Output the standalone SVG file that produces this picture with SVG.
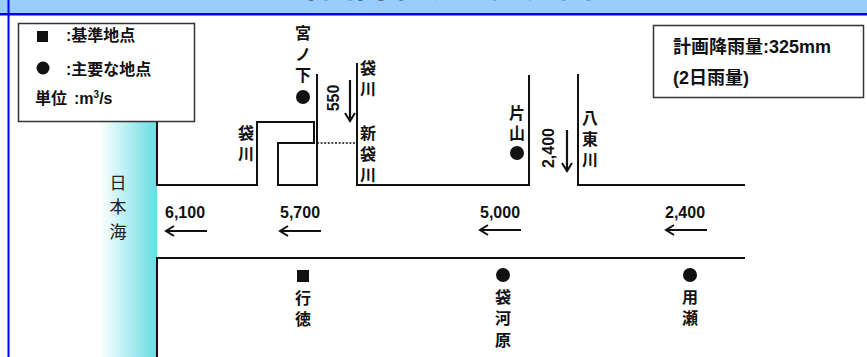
<svg xmlns="http://www.w3.org/2000/svg" width="867" height="357" viewBox="0 0 867 357">
<style>
.lbl{font-family:"Liberation Sans","Noto Sans CJK JP",sans-serif;font-weight:bold;font-size:16px;fill:#111;text-anchor:middle}
.num{font-family:"Liberation Sans","Noto Sans CJK JP",sans-serif;font-weight:bold;font-size:16px;fill:#111}
.leg{font-family:"Liberation Sans","Noto Sans CJK JP",sans-serif;font-weight:bold;font-size:16px;fill:#111}
.rain{font-family:"Liberation Sans","Noto Sans CJK JP",sans-serif;font-weight:bold;font-size:18px;fill:#111}
.sea{font-family:"Liberation Sans","Noto Sans CJK JP",sans-serif;font-size:17px;fill:#222;text-anchor:middle}
.bank{fill:none;stroke:#111;stroke-width:2}
.arr{fill:none;stroke:#111;stroke-width:2.2;marker-end:url(#ah)}
.box{fill:#fff;stroke:#333;stroke-width:1.5}
</style>
<defs>
<linearGradient id="seaG" x1="0" y1="0" x2="1" y2="0">
<stop offset="0" stop-color="#ffffff"/>
<stop offset="1" stop-color="#66DDE4"/>
</linearGradient>
<marker id="ah" markerUnits="userSpaceOnUse" markerWidth="12" markerHeight="14" viewBox="-10 -7 12 14" refX="0" refY="0" orient="auto">
<path d="M-8,-5 L0,0 L-8,5" fill="none" stroke="#111" stroke-width="2"/>
</marker>
</defs>
<rect x="0" y="0" width="867" height="357" fill="#fff"/>
<g id="title">
<rect x="0" y="0" width="867" height="13" fill="#99CCFF"/>
<rect x="0" y="13" width="867" height="2.5" fill="#0000FF"/>
<rect x="7.5" y="0" width="2" height="357" fill="#0000FF"/>
<text x="440" y="-3.5" font-family="Liberation Sans,Noto Sans CJK JP,sans-serif" font-weight="bold" font-size="34" fill="#222" text-anchor="middle">計画高水流量配分図</text>
</g>
<g id="sea">
<rect x="100" y="122" width="57" height="235" fill="url(#seaG)"/>
<text class="sea"><tspan x="118" y="189">日</tspan><tspan x="118" y="213">本</tspan><tspan x="118" y="238">海</tspan></text>
</g>
<g id="connectors">
<path class="bank" d="M157,122 V185 H257 V122 H314 V143 H278 V185 H317 V74"/>
<path class="bank" d="M357,63 V185 H529 V75"/>
<path class="bank" d="M578,74 V185 H745"/>
<path class="bank" d="M745,258 H157 V357"/>
<path d="M317,143 H357" fill="none" stroke="#111" stroke-width="1.6" stroke-dasharray="2 1.6"/>
<path class="arr" d="M207,231 H166"/>
<path class="arr" d="M321,231 H280"/>
<path class="arr" d="M521,230 H480"/>
<path class="arr" d="M707,230 H666"/>
<path class="arr" d="M350,80 V121"/>
<path class="arr" d="M567,130 V171"/>
</g>
<g id="legend">
<rect class="box" x="18.5" y="23.5" width="176" height="98"/>
<rect x="37" y="31" width="11" height="11" fill="#111"/>
<text class="leg" x="66" y="41">:基準地点</text>
<circle cx="43" cy="68" r="6.5" fill="#111"/>
<text class="leg" x="66" y="75">:主要な地点</text>
<text class="leg" x="35" y="104">単位</text>
<text class="leg" x="74" y="104">:m<tspan font-size="10" dy="-6">3</tspan><tspan dy="6">/s</tspan></text>
</g>
<g id="rain">
<rect class="box" x="653.5" y="25.5" width="210" height="72"/>
<text class="rain" x="673" y="53">計画降雨量:325mm</text>
<text class="rain" x="673" y="84">(2日雨量)</text>
</g>
<g id="miyanoshita">
<text class="lbl"><tspan x="303" y="39">宮</tspan><tspan x="303" y="60">ノ</tspan><tspan x="303" y="81">下</tspan></text>
<circle cx="303" cy="97" r="7" fill="#111"/>
</g>
<g id="fukuro-upper">
<text class="lbl"><tspan x="368" y="74">袋</tspan><tspan x="368" y="95">川</tspan></text>
</g>
<g id="shin-fukuro">
<text class="lbl"><tspan x="368" y="139">新</tspan><tspan x="368" y="160">袋</tspan><tspan x="368" y="181">川</tspan></text>
</g>
<g id="fukuro-left">
<text class="lbl"><tspan x="246" y="139">袋</tspan><tspan x="246" y="160">川</tspan></text>
</g>
<g id="katayama">
<text class="lbl"><tspan x="517" y="119">片</tspan><tspan x="517" y="139">山</tspan></text>
<circle cx="517" cy="153" r="7" fill="#111"/>
</g>
<g id="hatto">
<text class="lbl"><tspan x="590" y="124">八</tspan><tspan x="590" y="145">東</tspan><tspan x="590" y="166">川</tspan></text>
</g>
<g id="flow-labels">
<text class="lbl" x="333" y="98" dominant-baseline="central" transform="rotate(-90 333 98)">550</text>
<text class="lbl" x="548" y="148" dominant-baseline="central" transform="rotate(-90 548 148)">2,400</text>
<text class="num" x="165" y="218">6,100</text>
<text class="num" x="280" y="218">5,700</text>
<text class="num" x="480" y="218">5,000</text>
<text class="num" x="665" y="218">2,400</text>
</g>
<g id="gyotoku">
<rect x="297" y="270" width="12" height="12" fill="#111"/>
<text class="lbl"><tspan x="303" y="304">行</tspan><tspan x="303" y="325">徳</tspan></text>
</g>
<g id="fukurogawara">
<circle cx="503" cy="275" r="7" fill="#111"/>
<text class="lbl"><tspan x="503" y="303">袋</tspan><tspan x="503" y="324">河</tspan><tspan x="503" y="346">原</tspan></text>
</g>
<g id="mochigase">
<circle cx="690" cy="275" r="7" fill="#111"/>
<text class="lbl"><tspan x="690" y="303">用</tspan><tspan x="690" y="324">瀬</tspan></text>
</g>
</svg>
